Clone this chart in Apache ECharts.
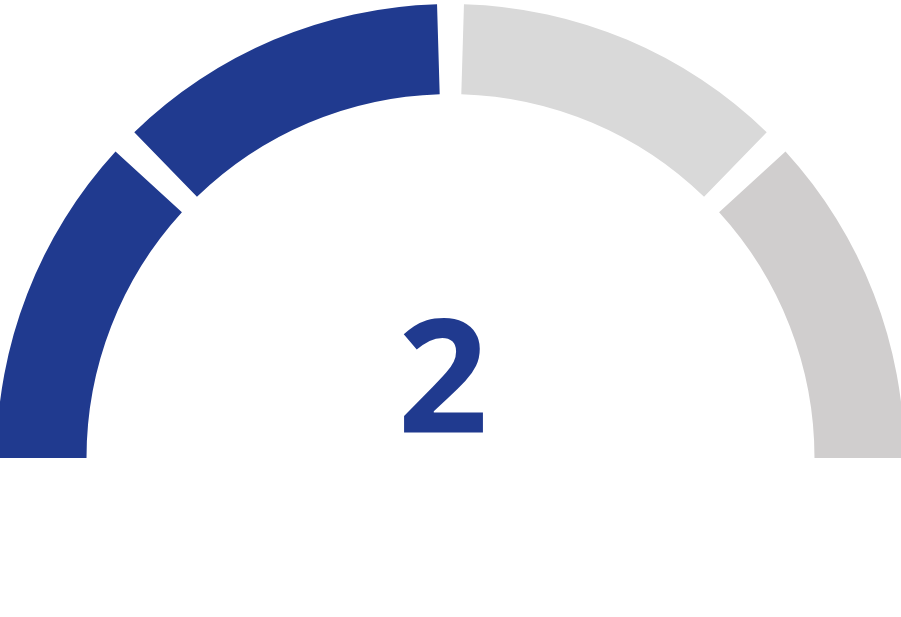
<!DOCTYPE html>
<html>
<head>
<meta charset="utf-8">
<style>html,body{margin:0;padding:0;background:#fff;}#chart{width:901px;height:617px;}</style>
<script src="https://cdn.jsdelivr.net/npm/echarts@6/dist/echarts.min.js"></script>
</head>
<body>
<div id="chart"></div>
<script>
// Data
const segmentNames = ['Step 1', 'Step 2', 'Step 3', 'Step 4'];
const segmentValues = [1, 1, 1, 1];
const gaugeValue = 2;

const activeColor = '#203A8F';
const inactiveColors = ['#D9D9D9', '#D0CECE'];

const chart = echarts.init(document.getElementById('chart'), null, { renderer: 'canvas' });
const pad = 3.4;
const data = segmentNames.map((n, i) => ({
  name: n,
  value: segmentValues[i],
  itemStyle: { color: i < gaugeValue ? activeColor : inactiveColors[i - gaugeValue] || '#D9D9D9' }
}));

chart.setOption({
  animation: false,
  series: [{
    type: 'pie',
    center: [450.5, 458],
    radius: [364, 454],
    startAngle: 180 + pad / 2,
    endAngle: -pad / 2,
    padAngle: pad,
    clockwise: true,
    label: { show: false },
    labelLine: { show: false },
    emphasis: { disabled: true },
    silent: true,
    data: data
  }],
  graphic: [{
    type: 'text',
    x: 443,
    y: 388,
    style: {
      text: String(gaugeValue),
      fill: activeColor,
      font: 'bold 158px "Open Sans"',
      textAlign: 'center',
      textVerticalAlign: 'middle'
    }
  }]
});
</script>
</body>
</html>
